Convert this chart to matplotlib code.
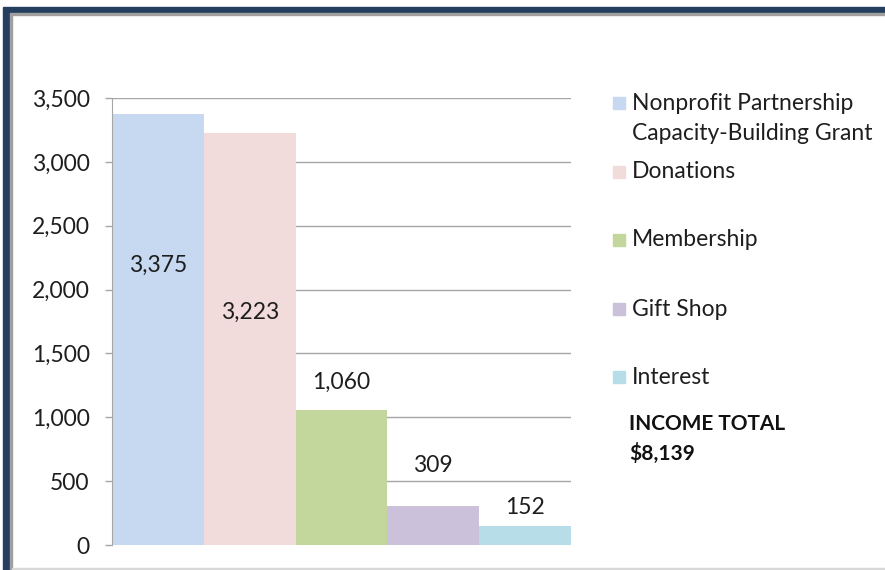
import matplotlib
matplotlib.use("Agg")
import matplotlib.pyplot as plt
from matplotlib.patches import Rectangle
from matplotlib.ticker import FuncFormatter

categories = ["Nonprofit Partnership\nCapacity-Building Grant", "Donations",
              "Membership", "Gift Shop", "Interest"]
values = [3375, 3223, 1060, 309, 152]
value_labels = ["3,375", "3,223", "1,060", "309", "152"]
label_y = [2190, 1820, 1270, 620, 290]
colors = ["#C6D9F1", "#F2DCDB", "#C3D69B", "#CCC1DA", "#B7DEE8"]
yticks = [0, 500, 1000, 1500, 2000, 2500, 3000, 3500]
total_text = "INCOME TOTAL\n$8,139"

FONT = "Lato"
plt.rcParams["font.family"] = [FONT, "DejaVu Sans"]
FS = 16.5
TXT = "#1E1E1E"

fig = plt.figure(figsize=(8.85, 5.70), dpi=100)
W, H = 885, 570

def fx(px):
    return px / W

def fy(py):
    return 1 - py / H

# frame decoration
fig.patches.append(Rectangle((fx(3), fy(13)), fx(882), 6 / H, transform=fig.transFigure,
                             color="#243F60", zorder=0))
fig.patches.append(Rectangle((fx(3), fy(570)), 7 / W, 557 / H, transform=fig.transFigure,
                             color="#243F60", zorder=0))
fig.patches.append(Rectangle((fx(10), fy(15)), fx(875), 2 / H, transform=fig.transFigure,
                             color="#A0A0A0", zorder=0))
fig.patches.append(Rectangle((fx(10), fy(570)), 2 / W, 555 / H, transform=fig.transFigure,
                             color="#A0A0A0", zorder=0))
fig.patches.append(Rectangle((fx(12), fy(569)), fx(873), 1.5 / H, transform=fig.transFigure,
                             color="#D8D8D8", zorder=0))

ax = fig.add_axes([fx(112), fy(545), fx(571) - fx(112), (545 - 98) / H])
x = list(range(len(values)))
ax.bar(x, values, width=1.0, color=colors, zorder=2)
ax.set_xlim(-0.5, len(values) - 0.5)
ax.set_ylim(0, 3500)
ax.set_yticks(yticks)
ax.yaxis.set_major_formatter(FuncFormatter(lambda v, p: f"{int(v):,}"))
ax.grid(axis="y", color="#A6A6A6", linewidth=1.0, zorder=1)
ax.set_xticks([])
for s in ["top", "right", "bottom"]:
    ax.spines[s].set_visible(False)
ax.spines["left"].set_color("#A6A6A6")
ax.tick_params(axis="y", length=5, width=1, color="#A6A6A6", pad=11,
               labelsize=FS, labelcolor=TXT)
ax.set_facecolor("none")

for xi, lab, ly in zip(x, value_labels, label_y):
    ax.text(xi, ly, lab, ha="center", va="center", fontsize=FS, color=TXT, zorder=3)

# legend
legend_y = [103, 172, 240, 309, 377]
for cat, col, ly in zip(categories, colors, legend_y):
    fig.patches.append(Rectangle((fx(613), fy(ly + 6)), 12 / W, 12 / H,
                                 transform=fig.transFigure, color=col))
    if "\n" in cat:
        fig.text(fx(632), fy(ly - 10), cat, ha="left", va="top", fontsize=FS,
                 color=TXT, linespacing=1.55)
    else:
        fig.text(fx(632), fy(ly), cat, ha="left", va="center", fontsize=FS,
                 color=TXT)

fig.text(fx(629), fy(423 - 9), total_text, ha="left", va="top", fontsize=15,
         fontweight="bold", color="#111111", linespacing=1.5)

fig.savefig("out.png", dpi=100)
